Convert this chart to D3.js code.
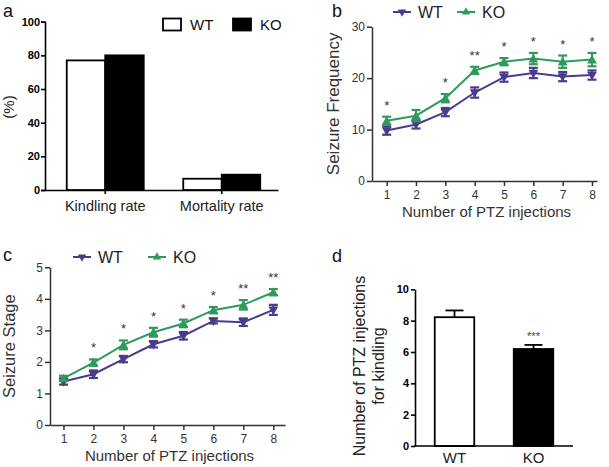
<!DOCTYPE html>
<html><head><meta charset="utf-8">
<script src="https://cdn.jsdelivr.net/npm/d3@7"></script>
<style>body{margin:0;background:#fff}svg{display:block}text{font-family:Arial,"Liberation Sans",sans-serif}</style>
</head><body>
<svg id="c" width="609" height="467"></svg>
<script>
// ---- data ----
const rateCategories = ["Kindling rate", "Mortality rate"];
const rateWT = [77, 6.7];
const rateKO = [80, 9.1];
const rateTicks = [0, 20, 40, 60, 80, 100];

const injections = [1, 2, 3, 4, 5, 6, 7, 8];
const freqWT = [9.8, 11.0, 13.4, 17.2, 20.2, 21.0, 20.3, 20.6];
const freqWTErr = [0.8, 0.8, 0.8, 1.0, 0.9, 1.0, 0.9, 0.9];
const freqKO = [11.7, 12.7, 16.1, 21.5, 23.2, 23.8, 23.2, 23.6];
const freqKOErr = [0.8, 1.1, 0.8, 0.7, 0.7, 1.1, 1.2, 1.3];
const freqStars = ["*", "", "*", "**", "*", "*", "*", "*"];
const freqTicks = [0, 10, 20, 30];

const stageWT = [1.38, 1.61, 2.09, 2.56, 2.83, 3.30, 3.26, 3.65];
const stageWTErr = [0.1, 0.12, 0.1, 0.1, 0.12, 0.08, 0.12, 0.16];
const stageKO = [1.48, 1.98, 2.54, 2.94, 3.22, 3.64, 3.81, 4.21];
const stageKOErr = [0.08, 0.1, 0.14, 0.14, 0.12, 0.1, 0.15, 0.1];
const stageStars = ["", "*", "*", "*", "*", "*", "**", "**"];
const stageTicks = [0, 1, 2, 3, 4, 5];

const kindleGroups = ["WT", "KO"];
const kindleMean = [8.22, 6.19];
const kindleErr = [0.43, 0.26];
const kindleStars = ["", "***"];
const kindleTicks = [0, 2, 4, 6, 8, 10];

const seriesNames = ["WT", "KO"];
const WTC = "#4b3b8c", KOC = "#2f9a5c";

const svg = d3.select("#c");
const F = 'Arial,"Liberation Sans",sans-serif';

function panelLabel(t, x, y) {
  svg.append("text").attr("x", x).attr("y", y).attr("font-size", 18).attr("fill", "#111").text(t);
}

// ---------- Panel a ----------
(function () {
  const g = svg.append("g");
  const y = d3.scaleLinear().domain([0, 100]).range([190, 21.7]);
  const x = d3.scaleBand().domain(rateCategories).range([45, 278]);
  const x1 = d3.scaleBand().domain(seriesNames).range([0, 77]);
  const ya = g.append("g").attr("transform", "translate(45,0)")
    .call(d3.axisLeft(y).tickValues(rateTicks).tickSize(4).tickPadding(1));
  ya.selectAll("text").attr("font-size", 11).attr("font-weight", "bold").attr("fill", "#000").attr("font-family", F);
  ya.selectAll("line,path").attr("stroke", "#000").attr("stroke-width", 1.6);
  const xa = g.append("g").attr("transform", "translate(0,190)")
    .call(d3.axisBottom(x).tickSize(4).tickFormat("").tickSizeOuter(0));
  xa.selectAll("line,path").attr("stroke", "#000").attr("stroke-width", 1.6);
  xa.selectAll(".tick").attr("transform", d => `translate(${x(d) + x.bandwidth() / 2 + 2},0)`);
  rateCategories.forEach((c, i) => {
    const cx = x(c) + x.bandwidth() / 2 + 2;
    [[rateWT[i], "WT", "#fff"], [rateKO[i], "KO", "#000"]].forEach(([v, s, fill]) => {
      g.append("rect").attr("x", cx - 38.5 + x1(s)).attr("width", x1.bandwidth())
        .attr("y", y(v)).attr("height", y(0) - y(v))
        .attr("fill", fill).attr("stroke", "#000").attr("stroke-width", 1.8);
    });
    g.append("text").attr("x", cx).attr("y", 211).attr("text-anchor", "middle")
      .attr("font-size", 14.5).attr("fill", "#222").text(c);
  });
  g.append("text").attr("transform", "translate(14,107) rotate(-90)").attr("text-anchor", "middle")
    .attr("font-size", 15).attr("fill", "#222").text("(%)");
  // legend
  [[163, "WT", "#fff"], [233, "KO", "#000"]].forEach(([lx, s, fill]) => {
    g.append("rect").attr("x", lx).attr("y", 18.5).attr("width", 18).attr("height", 12)
      .attr("fill", fill).attr("stroke", "#000").attr("stroke-width", 1.8);
    g.append("text").attr("x", lx + 27).attr("y", 30).attr("font-size", 15).attr("fill", "#111").text(s);
  });
  panelLabel("a", 3, 17);
})();

// ---------- line panels ----------
function linePanel(o) {
  const g = svg.append("g");
  const x = d3.scaleLinear().domain(o.xDomain).range([o.left, o.right]);
  const y = d3.scaleLinear().domain([0, o.yMax]).range([o.bottom, o.top]);
  const ya = g.append("g").attr("transform", `translate(${o.left},0)`)
    .call(d3.axisLeft(y).tickValues(o.yTicks).tickFormat(d3.format("d")).tickSize(5).tickPadding(2).tickSizeOuter(0));
  ya.selectAll("text").attr("font-size", 12).attr("fill", "#333").attr("font-family", F);
  ya.selectAll("line,path").attr("stroke", "#333").attr("stroke-width", 1.5);
  const xa = g.append("g").attr("transform", `translate(0,${o.bottom})`)
    .call(d3.axisBottom(x).tickValues(injections).tickFormat(d3.format("d")).tickSize(5).tickPadding(4).tickSizeOuter(0));
  xa.selectAll("text").attr("font-size", 12).attr("fill", "#333").attr("font-family", F);
  xa.selectAll("line,path").attr("stroke", "#333").attr("stroke-width", 1.5);

  const series = [
    { v: o.wt, e: o.wtErr, c: WTC, down: true },
    { v: o.ko, e: o.koErr, c: KOC, down: false }
  ];
  const tri = d3.symbol().type(d3.symbolTriangle).size(42);
  series.forEach(s => {
    const line = d3.line().x((d, i) => x(injections[i])).y(d => y(d));
    g.append("path").attr("d", line(s.v)).attr("fill", "none").attr("stroke", s.c).attr("stroke-width", 2);
    s.v.forEach((v, i) => {
      const cx = x(injections[i]);
      g.append("line").attr("x1", cx).attr("x2", cx).attr("y1", y(v - s.e[i])).attr("y2", y(v + s.e[i]))
        .attr("stroke", s.c).attr("stroke-width", 2);
      [v - s.e[i], v + s.e[i]].forEach(ev => {
        g.append("line").attr("x1", cx - 4.5).attr("x2", cx + 4.5).attr("y1", y(ev)).attr("y2", y(ev))
          .attr("stroke", s.c).attr("stroke-width", 2.2);
      });
      g.append("path").attr("d", tri()).attr("fill", s.c)
        .attr("transform", `translate(${cx},${y(v) + (s.down ? -0.5 : 1)}) rotate(${s.down ? 180 : 0})`);
    });
  });
  o.stars.forEach((st, i) => {
    if (!st) return;
    g.append("text").attr("x", x(injections[i])).attr("y", y(o.ko[i] + o.koErr[i]) - 7)
      .attr("text-anchor", "middle").attr("font-size", 13).attr("fill", "#333").text(st);
  });
  // legend
  [[o.legWT, "WT", WTC, true], [o.legKO, "KO", KOC, false]].forEach(([lx, s, c, down]) => {
    g.append("line").attr("x1", lx).attr("x2", lx + 18).attr("y1", o.legY).attr("y2", o.legY)
      .attr("stroke", c).attr("stroke-width", 2);
    g.append("path").attr("d", d3.symbol().type(d3.symbolTriangle).size(30)()).attr("fill", c)
      .attr("transform", `translate(${lx + 9},${o.legY}) rotate(${down ? 180 : 0})`);
    g.append("text").attr("x", lx + 25).attr("y", o.legY + 6).attr("font-size", 16).attr("fill", "#222").text(s);
  });
  g.append("text").attr("transform", `translate(${o.ylabX},${(o.top + o.bottom) / 2}) rotate(-90)`)
    .attr("text-anchor", "middle").attr("font-size", o.ylabSize).attr("fill", "#333").text(o.ylab);
  g.append("text").attr("x", (o.left + o.right) / 2 + 2).attr("y", o.xlabY).attr("text-anchor", "middle")
    .attr("font-size", 15).attr("fill", "#333").text("Number of PTZ injections");
}

linePanel({
  left: 372, right: 597, top: 26.7, bottom: 181, xDomain: [0.5, 8.17], yMax: 30, yTicks: freqTicks,
  wt: freqWT, wtErr: freqWTErr, ko: freqKO, koErr: freqKOErr, stars: freqStars,
  legWT: 393, legKO: 457, legY: 12, ylab: "Seizure Frequency", ylabX: 339, ylabSize: 17, xlabY: 217
});
panelLabel("b", 332, 17);

linePanel({
  left: 50, right: 285, top: 267.3, bottom: 425, xDomain: [0.55, 8.39], yMax: 5, yTicks: stageTicks,
  wt: stageWT, wtErr: stageWTErr, ko: stageKO, koErr: stageKOErr, stars: stageStars,
  legWT: 73, legKO: 148, legY: 257, ylab: "Seizure Stage", ylabX: 15, ylabSize: 16.5, xlabY: 461
});
panelLabel("c", 3, 261);

// ---------- Panel d ----------
(function () {
  const g = svg.append("g");
  const y = d3.scaleLinear().domain([0, 10]).range([446, 289.3]);
  const x = d3.scaleBand().domain(kindleGroups).range([415, 573]).paddingInner(0.5).paddingOuter(0.25);
  const fills = ["#fff", "#000"];
  kindleGroups.forEach((k, i) => {
    const bx = x(k), bw = x.bandwidth(), cx = bx + bw / 2;
    g.append("line").attr("x1", cx).attr("x2", cx).attr("y1", y(kindleMean[i])).attr("y2", y(kindleMean[i] + kindleErr[i]))
      .attr("stroke", "#000").attr("stroke-width", 1.8);
    g.append("line").attr("x1", cx - 9).attr("x2", cx + 9).attr("y1", y(kindleMean[i] + kindleErr[i])).attr("y2", y(kindleMean[i] + kindleErr[i]))
      .attr("stroke", "#000").attr("stroke-width", 1.8);
    g.append("rect").attr("x", bx).attr("width", bw).attr("y", y(kindleMean[i])).attr("height", y(0) - y(kindleMean[i]))
      .attr("fill", fills[i]).attr("stroke", "#000").attr("stroke-width", 1.8);
    g.append("text").attr("x", cx).attr("y", 463).attr("text-anchor", "middle").attr("font-size", 15)
      .attr("fill", "#222").text(k);
    if (kindleStars[i]) {
      g.append("text").attr("x", cx).attr("y", y(kindleMean[i] + kindleErr[i]) - 5).attr("text-anchor", "middle")
        .attr("font-size", 11).attr("fill", "#444").text(kindleStars[i]);
    }
  });
  const ya = g.append("g").attr("transform", "translate(415,0)")
    .call(d3.axisLeft(y).tickValues(kindleTicks).tickSize(4).tickPadding(2).tickSizeOuter(0));
  ya.selectAll("text").attr("font-size", 11).attr("font-weight", "bold").attr("fill", "#000").attr("font-family", F);
  ya.selectAll("line,path").attr("stroke", "#000").attr("stroke-width", 1.6);
  g.append("line").attr("x1", 414).attr("x2", 573).attr("y1", 446).attr("y2", 446).attr("stroke", "#000").attr("stroke-width", 1.6);
  g.append("text").attr("transform", "translate(365,366) rotate(-90)").attr("text-anchor", "middle")
    .attr("font-size", 16).attr("fill", "#222").text("Number of PTZ injections");
  g.append("text").attr("transform", "translate(384,366) rotate(-90)").attr("text-anchor", "middle")
    .attr("font-size", 16).attr("fill", "#222").text("for kindling");
  panelLabel("d", 332, 262);
})();
</script>
</body></html>
